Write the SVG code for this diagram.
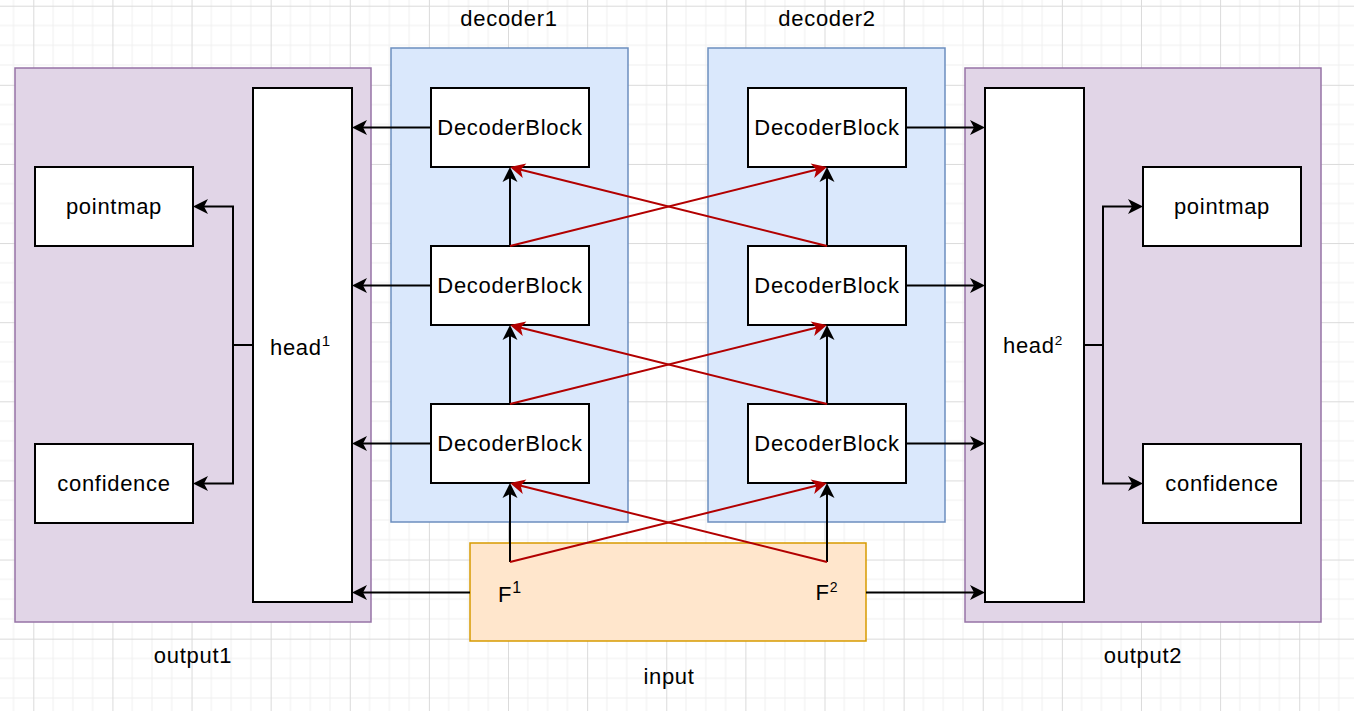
<svg xmlns="http://www.w3.org/2000/svg" width="1354" height="711" viewBox="0 0 1354 711">
<style>
.t{font-family:"Liberation Sans",Arial,sans-serif;font-size:22px;letter-spacing:0.7px;fill:#000}
.m{text-anchor:middle}
.box{fill:#fff;stroke:#000;stroke-width:2}
.purple{fill:#e1d5e7;stroke:#9673a6;stroke-width:1.5}
.blue{fill:#dae8fc;stroke:#6c8ebf;stroke-width:1.5}
.orange{fill:#ffe6cc;stroke:#d79b00;stroke-width:1.5}
.k{fill:none;stroke:#000;stroke-width:2;marker-end:url(#ak)}
.r{fill:none;stroke:#b20000;stroke-width:2;marker-end:url(#ar)}
</style>
<defs>
<pattern id="grid" patternUnits="userSpaceOnUse" x="33.3" y="5.7" width="79.12" height="79.12">
<path d="M19.78,0V79.12M39.56,0V79.12M59.34,0V79.12M0,19.78H79.12M0,39.56H79.12M0,59.34H79.12" stroke="#f0f0f0" stroke-width="1" fill="none"/>
<path d="M0.5,0V79.12M0,0.5H79.12" stroke="#dadada" stroke-width="1" fill="none"/>
</pattern>
<marker id="ak" viewBox="0 -8 16 16" markerWidth="16" markerHeight="16" refX="12" refY="0" orient="auto" markerUnits="userSpaceOnUse"><path d="M16,0L1,-7.5L5,0L1,7.5Z" fill="#000"/></marker>
<marker id="ar" viewBox="0 -8 16 16" markerWidth="16" markerHeight="16" refX="12" refY="0" orient="auto" markerUnits="userSpaceOnUse"><path d="M16,0L1,-7.5L5,0L1,7.5Z" fill="#b20000"/></marker>
</defs>
<rect width="1354" height="711" fill="#fff"/>
<rect width="1354" height="711" fill="url(#grid)"/>

<g id="output1">
<rect class="purple" x="15" y="68" width="356" height="554"/>
<text class="t m" x="193" y="663">output1</text>
</g>
<g id="decoder1">
<rect class="blue" x="391" y="48" width="237" height="474"/>
<text class="t m" x="509" y="26">decoder1</text>
</g>
<g id="decoder2">
<rect class="blue" x="708" y="48" width="237" height="474"/>
<text class="t m" x="827" y="26">decoder2</text>
</g>
<g id="output2">
<rect class="purple" x="965" y="68" width="356" height="554"/>
<text class="t m" x="1143" y="663">output2</text>
</g>
<g id="input">
<rect class="orange" x="470" y="543" width="396" height="98"/>
<text class="t m" x="669" y="684">input</text>
</g>

<g id="head1">
<rect class="box" x="253" y="88" width="99" height="514"/>
<text class="t" x="270" y="355">head<tspan dy="-9" font-size="15">1</tspan></text>
</g>
<g id="head2">
<rect class="box" x="985" y="88" width="99" height="514"/>
<text class="t" x="1003" y="353">head<tspan dy="-8" font-size="13.5">2</tspan></text>
</g>
<g id="pointmap1">
<rect class="box" x="35" y="167" width="158" height="79"/>
<text class="t m" x="114" y="213.5">pointmap</text>
</g>
<g id="confidence1">
<rect class="box" x="35" y="444" width="158" height="79"/>
<text class="t m" x="114" y="490.5">confidence</text>
</g>
<g id="pointmap2">
<rect class="box" x="1143" y="167" width="158" height="79"/>
<text class="t m" x="1222" y="213.5">pointmap</text>
</g>
<g id="confidence2">
<rect class="box" x="1143" y="444" width="158" height="79"/>
<text class="t m" x="1222" y="490.5">confidence</text>
</g>

<g id="d1b3">
<rect class="box" x="431" y="88" width="158" height="79"/>
<text class="t m" x="510" y="134.5">DecoderBlock</text>
</g>
<g id="d1b2">
<rect class="box" x="431" y="246" width="158" height="79"/>
<text class="t m" x="510" y="292.5">DecoderBlock</text>
</g>
<g id="d1b1">
<rect class="box" x="431" y="404" width="158" height="79"/>
<text class="t m" x="510" y="450.5">DecoderBlock</text>
</g>
<g id="d2b3">
<rect class="box" x="748" y="88" width="158" height="79"/>
<text class="t m" x="827" y="134.5">DecoderBlock</text>
</g>
<g id="d2b2">
<rect class="box" x="748" y="246" width="158" height="79"/>
<text class="t m" x="827" y="292.5">DecoderBlock</text>
</g>
<g id="d2b1">
<rect class="box" x="748" y="404" width="158" height="79"/>
<text class="t m" x="827" y="450.5">DecoderBlock</text>
</g>

<g id="F1">
<text class="t" x="498" y="602">F<tspan dy="-9" font-size="16">1</tspan></text>
</g>
<g id="F2">
<text class="t" x="815.5" y="600">F<tspan dy="-8.5" font-size="14">2</tspan></text>
</g>

<g id="connectors">
<path class="k" d="M431,127.5H356"/>
<path class="k" d="M431,285.5H356"/>
<path class="k" d="M431,443.5H356"/>
<path class="k" d="M470,592.5H356"/>
<path class="k" d="M906,127.5H981"/>
<path class="k" d="M906,285.5H981"/>
<path class="k" d="M906,443.5H981"/>
<path class="k" d="M866,592.5H981"/>
<path class="k" d="M253,345H233V206.5H197"/>
<path class="k" d="M233,345V483.5H197"/>
<path class="k" d="M1084,345H1103V206.5H1139"/>
<path class="k" d="M1103,345V483.5H1139"/>
<path class="k" d="M510,562V487"/>
<path class="k" d="M510,404V329"/>
<path class="k" d="M510,246V171"/>
<path class="k" d="M827,562V487"/>
<path class="k" d="M827,404V329"/>
<path class="k" d="M827,246V171"/>
<path class="r" d="M510,562L823.1,484"/>
<path class="r" d="M827,562L513.9,484"/>
<path class="r" d="M510,404L823.1,326"/>
<path class="r" d="M827,404L513.9,326"/>
<path class="r" d="M510,246L823.1,168"/>
<path class="r" d="M827,246L513.9,168"/>
</g>
</svg>
